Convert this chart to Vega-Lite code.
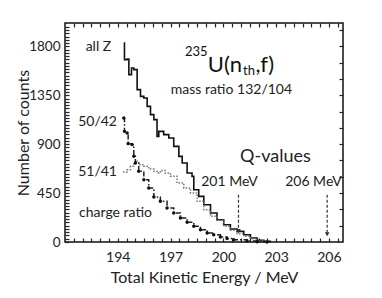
{
  "$schema": "https://vega.github.io/schema/vega-lite/v6.json",
  "width": 278,
  "height": 219,
  "autosize": "none",
  "padding": {"left": 65, "top": 23, "right": 39, "bottom": 56},
  "background": "white",
  "config": {
    "font": "Lato",
    "view": {"stroke": "#111", "strokeWidth": 1.5},
    "axis": {"grid": false, "domain": false, "tickColor": "#222", "labelColor": "#222", "titleColor": "#222", "labelFont": "Lato", "titleFont": "Lato", "titleFontWeight": "normal"}
  },
  "datasets": {
    "series": [
      {"series": "all Z", "e": 194.34, "c": 1831},
      {"series": "all Z", "e": 194.38, "c": 1678},
      {"series": "all Z", "e": 194.53, "c": 1684},
      {"series": "all Z", "e": 194.63, "c": 1540},
      {"series": "all Z", "e": 194.78, "c": 1601},
      {"series": "all Z", "e": 194.91, "c": 1586},
      {"series": "all Z", "e": 195.10, "c": 1402},
      {"series": "all Z", "e": 195.29, "c": 1340},
      {"series": "all Z", "e": 195.48, "c": 1325},
      {"series": "all Z", "e": 195.67, "c": 1248},
      {"series": "all Z", "e": 195.86, "c": 1172},
      {"series": "all Z", "e": 196.05, "c": 1126},
      {"series": "all Z", "e": 196.23, "c": 972},
      {"series": "all Z", "e": 196.33, "c": 1018},
      {"series": "all Z", "e": 196.61, "c": 988},
      {"series": "all Z", "e": 196.90, "c": 957},
      {"series": "all Z", "e": 197.18, "c": 880},
      {"series": "all Z", "e": 197.47, "c": 788},
      {"series": "all Z", "e": 197.66, "c": 727},
      {"series": "all Z", "e": 197.94, "c": 635},
      {"series": "all Z", "e": 198.22, "c": 604},
      {"series": "all Z", "e": 198.32, "c": 481},
      {"series": "all Z", "e": 198.60, "c": 420},
      {"series": "all Z", "e": 198.89, "c": 343},
      {"series": "all Z", "e": 199.27, "c": 267},
      {"series": "all Z", "e": 199.64, "c": 205},
      {"series": "all Z", "e": 200.02, "c": 159},
      {"series": "all Z", "e": 200.40, "c": 120},
      {"series": "all Z", "e": 200.78, "c": 98},
      {"series": "all Z", "e": 201.16, "c": 67},
      {"series": "all Z", "e": 201.54, "c": 37},
      {"series": "all Z", "e": 201.92, "c": 15},
      {"series": "all Z", "e": 202.30, "c": 6},
      {"series": "all Z", "e": 202.67, "c": 0},
      {"series": "50/42", "e": 194.34, "c": 1141},
      {"series": "50/42", "e": 194.38, "c": 1018},
      {"series": "50/42", "e": 194.53, "c": 1003},
      {"series": "50/42", "e": 194.59, "c": 905},
      {"series": "50/42", "e": 194.81, "c": 896},
      {"series": "50/42", "e": 194.91, "c": 788},
      {"series": "50/42", "e": 195.00, "c": 727},
      {"series": "50/42", "e": 195.19, "c": 650},
      {"series": "50/42", "e": 195.48, "c": 573},
      {"series": "50/42", "e": 195.76, "c": 497},
      {"series": "50/42", "e": 196.05, "c": 414},
      {"series": "50/42", "e": 196.42, "c": 374},
      {"series": "50/42", "e": 196.80, "c": 313},
      {"series": "50/42", "e": 197.18, "c": 267},
      {"series": "50/42", "e": 197.56, "c": 221},
      {"series": "50/42", "e": 197.94, "c": 181},
      {"series": "50/42", "e": 198.32, "c": 144},
      {"series": "50/42", "e": 198.70, "c": 113},
      {"series": "50/42", "e": 199.08, "c": 83},
      {"series": "50/42", "e": 199.45, "c": 67},
      {"series": "50/42", "e": 199.83, "c": 46},
      {"series": "50/42", "e": 200.21, "c": 32},
      {"series": "50/42", "e": 200.59, "c": 21},
      {"series": "50/42", "e": 201.35, "c": 9},
      {"series": "50/42", "e": 201.92, "c": 3},
      {"series": "50/42", "e": 202.48, "c": 0},
      {"series": "51/41", "e": 194.30, "c": 644},
      {"series": "51/41", "e": 194.53, "c": 665},
      {"series": "51/41", "e": 194.72, "c": 696},
      {"series": "51/41", "e": 194.91, "c": 727},
      {"series": "51/41", "e": 195.00, "c": 742},
      {"series": "51/41", "e": 195.19, "c": 711},
      {"series": "51/41", "e": 195.48, "c": 696},
      {"series": "51/41", "e": 195.76, "c": 672},
      {"series": "51/41", "e": 196.05, "c": 650},
      {"series": "51/41", "e": 196.23, "c": 635},
      {"series": "51/41", "e": 196.42, "c": 659},
      {"series": "51/41", "e": 196.70, "c": 635},
      {"series": "51/41", "e": 196.99, "c": 604},
      {"series": "51/41", "e": 197.37, "c": 543},
      {"series": "51/41", "e": 197.75, "c": 497},
      {"series": "51/41", "e": 198.13, "c": 451},
      {"series": "51/41", "e": 198.51, "c": 374},
      {"series": "51/41", "e": 198.89, "c": 297},
      {"series": "51/41", "e": 199.27, "c": 236},
      {"series": "51/41", "e": 199.64, "c": 199},
      {"series": "51/41", "e": 200.02, "c": 144},
      {"series": "51/41", "e": 200.40, "c": 107},
      {"series": "51/41", "e": 200.78, "c": 77},
      {"series": "51/41", "e": 201.16, "c": 52},
      {"series": "51/41", "e": 201.54, "c": 31},
      {"series": "51/41", "e": 201.92, "c": 12},
      {"series": "51/41", "e": 202.30, "c": 0}
    ],
    "labels": [
      {"text": "all Z", "e": 192.9, "c": 1797, "kind": "small"},
      {"text": "50/42", "e": 192.85, "c": 1107, "kind": "small"},
      {"text": "51/41", "e": 192.85, "c": 647, "kind": "small"},
      {"text": "charge ratio", "e": 193.87, "c": 270, "kind": "small"},
      {"text": "mass ratio 132/104", "e": 200.46, "c": 1397, "kind": "small"},
      {"text": "201 MeV", "e": 200.35, "c": 555, "kind": "small"},
      {"text": "206 MeV", "e": 205.12, "c": 555, "kind": "small"},
      {"text": "Q-values", "e": 202.96, "c": 785, "kind": "q"}
    ],
    "formula": [
      {"text": "235", "e": 197.82, "c": 1745, "kind": "sup"},
      {"text": "U(n", "e": 199.12, "c": 1631, "kind": "big"},
      {"text": "th", "e": 201.12, "c": 1570, "kind": "sub"},
      {"text": ",f)", "e": 201.82, "c": 1631, "kind": "big"}
    ],
    "arrows": [
      {"q": "201 MeV", "e": 200.86, "c1": 435, "c2": 100},
      {"q": "206 MeV", "e": 205.9, "c1": 435, "c2": 72}
    ]
  },
  "layer": [
    {
      "data": {"name": "series"},
      "transform": [{"filter": "datum.series == 'all Z'"}],
      "mark": {"type": "line", "interpolate": "step-after", "color": "#111", "strokeWidth": 1.6},
      "encoding": {
        "x": {"field": "e", "type": "quantitative", "scale": {"domain": [191, 206.8], "nice": false, "zero": false},
          "axis": {"orient": "bottom", "title": "Total Kinetic Energy / MeV", "titleFontSize": 16, "titlePadding": 5, "labelFontSize": 14, "labelPadding": 12, "tickSize": -4, "tickWidth": 1.2,
            "values": [191.5,192,192.5,193,193.5,194,194.5,195,195.5,196,196.5,197,197.5,198,198.5,199,199.5,200,200.5,201,201.5,202,202.5,203,203.5,204,204.5,205,205.5,206,206.5],
            "labelExpr": "datum.value % 3 == 2 ? datum.value : ''"}},
        "y": {"field": "c", "type": "quantitative", "scale": {"domain": [0, 2015], "nice": false},
          "axis": {"orient": "left", "title": "Number of counts", "titleFontSize": 16, "titlePadding": -3, "labelFontSize": 13.5, "labelPadding": 9, "tickSize": -4, "tickWidth": 1.2,
            "values": [30,60,90,120,150,180,210,240,270,300,330,360,390,420,450,480,510,540,570,600,630,660,690,720,750,780,810,840,870,900,930,960,990,1020,1050,1080,1110,1140,1170,1200,1230,1260,1290,1320,1350,1380,1410,1440,1470,1500,1530,1560,1590,1620,1650,1680,1710,1740,1770,1800,1830,1860,1890,1920,1950,1980,0],
            "labelExpr": "datum.value % 450 == 0 ? datum.value : ''"}}
      }
    },
    {
      "data": {"name": "series"},
      "transform": [{"filter": "datum.series == '51/41'"}],
      "mark": {"type": "line", "interpolate": "step-after", "color": "#777", "strokeWidth": 1.5, "strokeDash": [1.5, 1.5]},
      "encoding": {
        "x": {"field": "e", "type": "quantitative",
          "axis": {"orient": "top", "title": null, "labels": false, "tickSize": -4, "tickWidth": 1.2,
            "values": [191.5,192,192.5,193,193.5,194,194.5,195,195.5,196,196.5,197,197.5,198,198.5,199,199.5,200,200.5,201,201.5,202,202.5,203,203.5,204,204.5,205,205.5,206,206.5]}},
        "y": {"field": "c", "type": "quantitative",
          "axis": {"orient": "right", "title": null, "labels": false, "tickSize": -4, "tickWidth": 1.2,
            "values": [150,300,450,600,750,900,1050,1200,1350,1500,1650,1800,1950]}}
      }
    },
    {
      "data": {"name": "series"},
      "transform": [{"filter": "datum.series == '50/42'"}],
      "mark": {"type": "line", "interpolate": "step-after", "color": "#222", "strokeWidth": 1.5, "strokeDash": [5, 2, 1.5, 2]},
      "encoding": {
        "x": {"field": "e", "type": "quantitative", "axis": null},
        "y": {"field": "c", "type": "quantitative", "axis": null}
      }
    },
    {
      "data": {"name": "series"},
      "transform": [{"filter": "datum.series == '50/42'"}],
      "mark": {"type": "point", "filled": true, "color": "#111", "size": 12, "opacity": 1},
      "encoding": {
        "x": {"field": "e", "type": "quantitative", "axis": null},
        "y": {"field": "c", "type": "quantitative", "axis": null}
      }
    },
    {
      "data": {"name": "arrows"},
      "mark": {"type": "rule", "color": "#333", "strokeWidth": 1.2, "strokeDash": [3, 2]},
      "encoding": {
        "x": {"field": "e", "type": "quantitative", "axis": null},
        "y": {"field": "c1", "type": "quantitative", "axis": null},
        "y2": {"field": "c2"}
      }
    },
    {
      "data": {"name": "arrows"},
      "mark": {"type": "point", "shape": "triangle-down", "filled": true, "color": "#333", "size": 22, "opacity": 1},
      "encoding": {
        "x": {"field": "e", "type": "quantitative", "axis": null},
        "y": {"field": "c2", "type": "quantitative", "axis": null}
      }
    },
    {
      "data": {"name": "labels"},
      "transform": [{"filter": "datum.kind == 'small'"}],
      "mark": {"type": "text", "fontSize": 14, "color": "#222", "align": "center", "baseline": "middle", "font": "Lato"},
      "encoding": {
        "x": {"field": "e", "type": "quantitative", "axis": null},
        "y": {"field": "c", "type": "quantitative", "axis": null},
        "text": {"field": "text"}
      }
    },
    {
      "data": {"name": "labels"},
      "transform": [{"filter": "datum.kind == 'q'"}],
      "mark": {"type": "text", "fontSize": 18, "color": "#222", "align": "center", "baseline": "middle", "font": "Lato"},
      "encoding": {
        "x": {"field": "e", "type": "quantitative", "axis": null},
        "y": {"field": "c", "type": "quantitative", "axis": null},
        "text": {"field": "text"}
      }
    },
    {
      "data": {"name": "formula"},
      "transform": [{"filter": "datum.kind == 'big'"}],
      "mark": {"type": "text", "fontSize": 22, "color": "#111", "align": "left", "baseline": "middle", "font": "Lato"},
      "encoding": {
        "x": {"field": "e", "type": "quantitative", "axis": null},
        "y": {"field": "c", "type": "quantitative", "axis": null},
        "text": {"field": "text"}
      }
    },
    {
      "data": {"name": "formula"},
      "transform": [{"filter": "datum.kind != 'big'"}],
      "mark": {"type": "text", "fontSize": 13, "color": "#111", "align": "left", "baseline": "middle", "font": "Lato"},
      "encoding": {
        "x": {"field": "e", "type": "quantitative", "axis": null},
        "y": {"field": "c", "type": "quantitative", "axis": null},
        "text": {"field": "text"}
      }
    }
  ],
  "resolve": {"axis": {"x": "independent", "y": "independent"}}
}
